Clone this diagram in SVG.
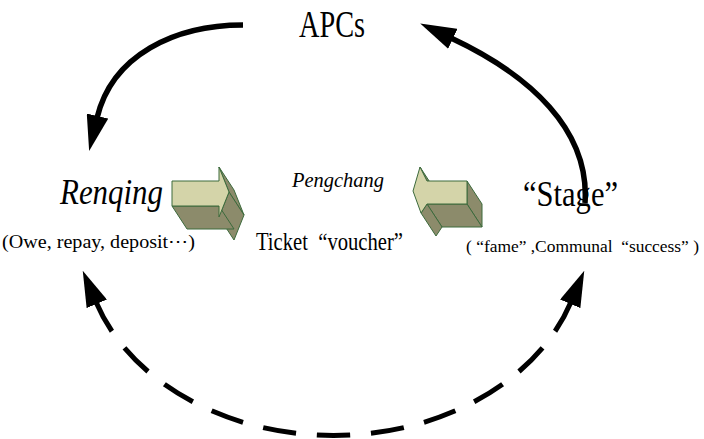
<svg xmlns="http://www.w3.org/2000/svg" width="704" height="439" viewBox="0 0 704 439">
  <style>
    .lbl { font-family: "Liberation Serif", "Times New Roman", serif; fill: #000; }
    .it { font-style: italic; }
    .flow { fill: none; stroke: #000; stroke-width: 5.5; }
    .dash { stroke-dasharray: 58 36.2; stroke-width: 5; }
    .front { fill: #d4d4a9; stroke: #3c6a3c; stroke-width: 1; stroke-linejoin: round; }
    .side { fill: #8c8b6b; stroke: #3c6a3c; stroke-width: 1; stroke-linejoin: round; }
  </style>
  <defs>
    <marker id="head" markerUnits="userSpaceOnUse" viewBox="0 0 36 22" markerWidth="36" markerHeight="22" refX="2" refY="11" orient="auto-start-reverse">
      <path d="M0,0 L36,11 L0,22 Z" fill="#000"/>
    </marker>
  </defs>

  <rect width="704" height="439" fill="#fff"/>

  <!-- connectors -->
  <g id="connectors">
    <path class="flow" d="M243,25 C175,25 112,55 97,118" marker-end="url(#head)"/>
    <path class="flow" d="M585,203 C590,130 530,75 451,38" marker-end="url(#head)"/>
    <path class="flow dash" pathLength="1000" d="M96,302 A250,194 0 0 0 571,302" marker-start="url(#head)" marker-end="url(#head)"/>
  </g>

  <!-- block arrow pointing right -->
  <g id="arrow-right">
    <polygon class="side" points="219,167 229,192 244,215 234,190"/>
    <polygon class="side" points="229,192 219,217 234,240 244,215"/>
    <polygon class="side" points="172,206 219,206 234,229 187,229"/>
    <polygon class="front" points="172,181 219,181 219,167 229,192 219,217 219,206 172,206"/>
  </g>

  <!-- block arrow pointing left -->
  <g id="arrow-left">
    <polygon class="side" points="420,167 427,181 442,204 435,190"/>
    <polygon class="side" points="467,181 467,204 482,227 482,204"/>
    <polygon class="side" points="467,204 427,204 442,227 482,227"/>
    <polygon class="side" points="427,204 421,213 436,236 442,227"/>
    <polygon class="front" points="413,191 420,167 427,181 467,181 467,204 427,204 421,213"/>
  </g>

  <g id="apcs">
    <text class="lbl" x="299" y="37" font-size="38" textLength="66" lengthAdjust="spacingAndGlyphs">APCs</text>
  </g>

  <g id="renqing">
    <text class="lbl it" x="60" y="204" font-size="35" textLength="103" lengthAdjust="spacingAndGlyphs">Renqing</text>
    <text class="lbl" x="2" y="248" font-size="19" textLength="193" lengthAdjust="spacingAndGlyphs">(Owe, repay, deposit⋯)</text>
  </g>

  <g id="pengchang">
    <text class="lbl it" x="292" y="187" font-size="22" textLength="92" lengthAdjust="spacingAndGlyphs">Pengchang</text>
    <text class="lbl" x="256" y="250" font-size="25" textLength="147" lengthAdjust="spacingAndGlyphs" xml:space="preserve">Ticket  “voucher”</text>
  </g>

  <g id="stage">
    <text class="lbl" x="523" y="206" font-size="35" textLength="95" lengthAdjust="spacingAndGlyphs">“Stage”</text>
    <text class="lbl" x="466" y="252" font-size="17" textLength="233" lengthAdjust="spacingAndGlyphs" xml:space="preserve">( “fame” ,Communal  “success” )</text>
  </g>
</svg>
